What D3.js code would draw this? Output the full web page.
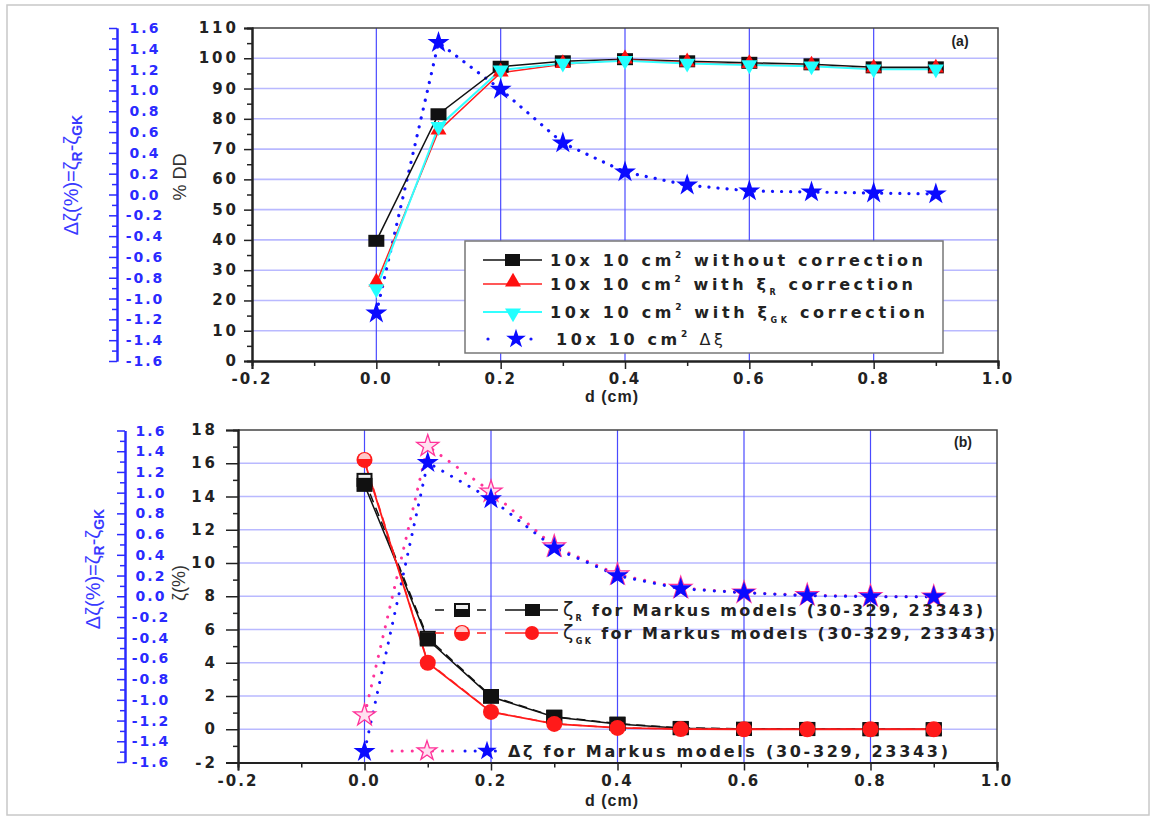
<!DOCTYPE html>
<html>
<head>
<meta charset="utf-8">
<script src="https://cdn.jsdelivr.net/npm/d3@7"></script>
<style>
  body { margin: 0; background: #fff; }
  text { font-family: Arial, "Liberation Sans", sans-serif; }
  text.wide { font-family: "DejaVu Sans", Arial, sans-serif; }
</style>
</head>
<body>
<div id="svg-container"></div>
<script>
// depth values (cm)
const depth = [0.0, 0.1, 0.2, 0.3, 0.4, 0.5, 0.6, 0.7, 0.8, 0.9];

// panel (a): % DD
const ddWithout = [39.7, 81.5, 97.2, 99.0, 99.7, 99.0, 98.5, 98.0, 97.0, 97.0];
const ddWithR   = [25.8, 76.0, 95.2, 98.0, 99.5, 98.5, 98.0, 97.5, 96.5, 96.5];
const ddWithGK  = [23.8, 77.4, 96.1, 98.3, 99.2, 98.3, 97.8, 97.4, 96.4, 96.4];
const deltaA    = [-1.14, 1.46, 1.01, 0.495, 0.216, 0.09, 0.034, 0.024, 0.014, 0.005];

// panel (b): zeta (%)
const zetaR      = [14.7, 5.4, 1.95, 0.74, 0.32, 0.06, 0.02, 0.01, 0.0, 0.0];
const zetaRDash  = [15.0, 5.5, 2.0, 0.76, 0.34, 0.08, 0.03, 0.02, 0.01, 0.0];
const zetaGK     = [16.1, 4.0, 1.04, 0.32, 0.08, 0.01, 0.0, 0.0, 0.0, 0.0];
const zetaGKDash = [16.2, 4.05, 1.06, 0.33, 0.09, 0.02, 0.0, 0.0, 0.0, 0.0];
const deltaBBlue = [-1.5, 1.29, 0.94, 0.466, 0.198, 0.072, 0.034, 0.005, -0.005, -0.005];
const deltaBPink = [-1.15, 1.45, 1.01, 0.48, 0.21, 0.08, 0.035, 0.01, 0.0, -0.005];

// tick values
const xTicks   = [-0.2, 0.0, 0.2, 0.4, 0.6, 0.8, 1.0];
const xMinor   = d3.range(-1, 10, 2).map(v => v / 10);
const ddTicks  = d3.range(0, 111, 10);
const ddMinor  = d3.range(5, 110, 10);
const zTicks   = d3.range(-2, 19, 2);
const zMinor   = d3.range(-1, 18, 2);
const dzTicks  = d3.range(-16, 17, 2).map(v => v / 10);
const dzMinor  = d3.range(-15, 16, 2).map(v => v / 10);

const width = 1155, height = 823;
const BLUE = "#2a2aff", GRID_H = "#b9b9ff", GRID_V = "#4a4aff";

const svg = d3.select("#svg-container").append("svg")
  .attr("width", width).attr("height", height);

// light frame round whole picture
svg.append("rect").attr("x", 7).attr("y", 5).attr("width", 1142).attr("height", 810)
  .attr("fill", "none").attr("stroke", "#c8c8c8").attr("stroke-width", 1.5);

const star = d3.symbol().type(d3.symbolStar).size(150);
const starSmall = d3.symbol().type(d3.symbolStar).size(120);
const triUp = d3.symbol().type(d3.symbolTriangle).size(110);

// plain hyphen for negatives, like the original
const fmt1 = v => d3.format(".1f")(v).replace("\u2212", "-");

// tick labels drawn as own text so the styling sticks
function tickLabels(g, ticks, fx, fy, fmt, o) {
  g.selectAll(null).data(ticks).enter().append("text")
    .attr("class", "wide")
    .attr("x", fx).attr("y", fy)
    .attr("text-anchor", o.anchor)
    .attr("font-size", o.size).attr("font-weight", "bold")
    .attr("letter-spacing", o.spacing)
    .attr("fill", o.color)
    .text(fmt);
}

function styleAxis(a, color) {
  a.selectAll(".domain").attr("stroke-width", 2).attr("stroke", color);
  a.selectAll(".tick line").attr("stroke-width", 1.5).attr("stroke", color);
}

// draws frame, grid, axes of a panel, returns scales
function makePanel(p) {
  const x = d3.scaleLinear().domain([-0.2, 1.0]).range([p.left, p.right]);
  const y = d3.scaleLinear().domain(p.yDomain).range([p.bottom, p.top]);
  const yb = d3.scaleLinear().domain([-1.6, 1.6]).range([p.bBottom, p.bTop]);
  const g = svg.append("g");

  // grid
  g.selectAll(".gh").data(p.yTicks.filter(v => v !== p.yDomain[0] && v !== p.yDomain[1]))
    .enter().append("line")
    .attr("x1", p.left).attr("x2", p.right)
    .attr("y1", d => y(d)).attr("y2", d => y(d))
    .attr("stroke", GRID_H).attr("stroke-width", 1.6);
  g.selectAll(".gv").data([0.0, 0.2, 0.4, 0.6, 0.8])
    .enter().append("line")
    .attr("x1", d => x(d)).attr("x2", d => x(d))
    .attr("y1", p.top).attr("y2", p.bottom)
    .attr("stroke", GRID_V).attr("stroke-width", 1.2);

  // top and right frame
  g.append("path")
    .attr("d", `M${p.left},${p.top}H${p.right}V${p.bottom}`)
    .attr("fill", "none").attr("stroke", "#444").attr("stroke-width", 1.5);

  // x axis
  g.append("g").attr("transform", `translate(0,${p.bottom})`)
    .call(d3.axisBottom(x).tickValues(xMinor).tickSize(5).tickFormat(""))
    .call(styleAxis, "#222");
  g.append("g").attr("transform", `translate(0,${p.bottom})`)
    .call(d3.axisBottom(x).tickValues(xTicks).tickSize(8).tickFormat(""))
    .call(styleAxis, "#222");
  tickLabels(g, xTicks, d => x(d), p.bottom + 23, fmt1,
    { anchor: "middle", size: 15, spacing: 2, color: "#222" });

  // left axis
  g.append("g").attr("transform", `translate(${p.left},0)`)
    .call(d3.axisLeft(y).tickValues(p.yMinor).tickSize(5).tickFormat(""))
    .call(styleAxis, "#222");
  g.append("g").attr("transform", `translate(${p.left},0)`)
    .call(d3.axisLeft(y).tickValues(p.yTicks).tickSize(p.tick).tickFormat(""))
    .call(styleAxis, "#222");
  tickLabels(g, p.yTicks, p.labelX, d => y(d) + 5, d => d,
    { anchor: "end", size: 15, spacing: 3, color: "#222" });

  // blue axis, ticks to the left, labels to the right
  g.append("g").attr("transform", `translate(${p.bx},0)`)
    .call(d3.axisRight(yb).tickValues(dzMinor).tickSizeInner(-5).tickSizeOuter(0).tickFormat(""))
    .call(styleAxis, BLUE);
  g.append("g").attr("transform", `translate(${p.bx},0)`)
    .call(d3.axisRight(yb).tickValues(dzTicks).tickSizeInner(-8).tickSizeOuter(0).tickFormat(""))
    .call(styleAxis, BLUE);
  tickLabels(g, dzTicks, p.bLabelX, d => yb(d) + 5, fmt1,
    { anchor: "middle", size: 14, spacing: 2, color: BLUE });

  return { x, y, yb, g };
}

function seriesLine(g, x, y, vals, color, opts) {
  const line = d3.line().x((d, i) => x(depth[i])).y(d => y(d));
  g.append("path").datum(vals).attr("d", line)
    .attr("fill", "none").attr("stroke", color)
    .attr("stroke-width", opts.width || 1.5)
    .attr("stroke-dasharray", opts.dash || null)
    .attr("stroke-linecap", opts.cap || "butt");
}

function bigText(x, y, str, size, color, rotate) {
  const t = svg.append("text").attr("x", x).attr("y", y)
    .attr("font-size", size).attr("font-weight", "bold").attr("fill", color)
    .attr("text-anchor", "middle");
  if (rotate) t.attr("transform", `rotate(-90,${x},${y})`);
  t.text(str);
  return t;
}

// ================= panel (a) =================
const A = makePanel({
  left: 252, right: 998, top: 28, bottom: 361,
  yDomain: [0, 110], yTicks: ddTicks, yMinor: ddMinor, tick: 8, labelX: 239,
  bx: 117, bTop: 28, bBottom: 361, bLabelX: 145
});

seriesLine(A.g, A.x, A.yb, deltaA, "#1515ff", { dash: "0.1,9", width: 3.2, cap: "round" });
seriesLine(A.g, A.x, A.y, ddWithout, "#111", {});
seriesLine(A.g, A.x, A.y, ddWithR, "#ff2020", {});
seriesLine(A.g, A.x, A.y, ddWithGK, "#33ffff", { width: 2 });

A.g.selectAll(".sq").data(ddWithout).enter().append("rect")
  .attr("x", (d, i) => A.x(depth[i]) - 8).attr("y", d => A.y(d) - 6)
  .attr("width", 16).attr("height", 12).attr("fill", "#111");
A.g.selectAll(".tu").data(ddWithR).enter().append("path")
  .attr("d", triUp)
  .attr("transform", (d, i) => `translate(${A.x(depth[i])},${A.y(d) - 1})`)
  .attr("fill", "#ff1010");
A.g.selectAll(".td").data(ddWithGK).enter().append("path")
  .attr("d", triUp)
  .attr("transform", (d, i) => `translate(${A.x(depth[i])},${A.y(d)}) rotate(180)`)
  .attr("fill", "#22ffff");
A.g.selectAll(".st").data(deltaA).enter().append("path")
  .attr("d", star)
  .attr("transform", (d, i) => `translate(${A.x(depth[i])},${A.yb(d)})`)
  .attr("fill", "#0a0aff");

// legend (a)
const legA = svg.append("g");
legA.append("rect").attr("x", 465).attr("y", 241).attr("width", 478).attr("height", 112)
  .attr("fill", "#fff").attr("stroke", "#777").attr("stroke-width", 1.5);
const rowsA = [
  { y: 260, color: "#111", sub: null, pre: "10x 10 cm", post: " without  correction", w: 373 },
  { y: 284, color: "#ff2020", sub: "R", pre: "10x 10 cm", post: " correction", w: 363 },
  { y: 312, color: "#33ffff", sub: "GK", pre: "10x 10 cm", post: " correction", w: 375 },
  { y: 339, color: "#1515ff", sub: "star", pre: "10x 10 cm", post: "", w: 167 }
];
rowsA.forEach((r, k) => {
  if (k < 3) {
    legA.append("line").attr("x1", 483).attr("x2", 542).attr("y1", r.y).attr("y2", r.y)
      .attr("stroke", r.color).attr("stroke-width", k === 2 ? 2 : 1.5);
  }
  if (k === 0) legA.append("rect").attr("x", 505).attr("y", r.y - 6).attr("width", 15).attr("height", 12).attr("fill", "#111");
  if (k === 1) legA.append("path").attr("d", triUp).attr("transform", `translate(513,${r.y - 2})`).attr("fill", "#ff1010");
  if (k === 2) legA.append("path").attr("d", triUp).attr("transform", `translate(513,${r.y + 1}) rotate(180)`).attr("fill", "#22ffff");
  if (k === 3) {
    legA.append("circle").attr("cx", 488).attr("cy", r.y).attr("r", 1.6).attr("fill", "#1515ff");
    legA.append("circle").attr("cx", 531).attr("cy", r.y).attr("r", 1.6).attr("fill", "#1515ff");
    legA.append("path").attr("d", starSmall).attr("transform", `translate(516,${r.y})`).attr("fill", "#0a0aff");
  }
  const t = legA.append("text").attr("class", "wide").attr("x", k === 3 ? 556 : 550).attr("y", r.y + 6)
    .attr("font-size", 16).attr("font-weight", "bold").attr("fill", "#222")
    .attr("textLength", r.w).attr("lengthAdjust", "spacing");
  t.append("tspan").text(r.pre);
  t.append("tspan").attr("dy", -8).attr("font-size", 9).text("2");
  if (k === 0) t.append("tspan").attr("dy", 8).text(r.post);
  if (k === 1 || k === 2) {
    t.append("tspan").attr("dy", 8).text("  with ξ");
    t.append("tspan").attr("dy", 5).attr("font-size", 8).text(r.sub);
    t.append("tspan").attr("dy", -5).text(r.post);
  }
  if (k === 3) t.append("tspan").attr("dy", 8).attr("font-weight", "normal").text(" Δξ");
});

bigText(960, 46, "(a)", 14, "#222");
bigText(612, 402, "d (cm)", 16, "#222").attr("letter-spacing", 1);
bigText(186, 177, "% DD", 18, "#333", true).attr("font-weight", "normal");

// blue axis title with subscripts
function blueTitle(x, y) {
  const t = svg.append("text").attr("x", x).attr("y", y)
    .attr("transform", `rotate(-90,${x},${y})`).attr("text-anchor", "middle")
    .attr("font-size", 20).attr("fill", "#3a3aff");
  t.append("tspan").text("Δζ(%)=ζ");
  t.append("tspan").attr("dy", 4).attr("font-size", 14).attr("font-weight", "bold").text("R");
  t.append("tspan").attr("dy", -4).text("-ζ");
  t.append("tspan").attr("dy", 4).attr("font-size", 14).attr("font-weight", "bold").text("GK");
}
blueTitle(78, 175);

// ================= panel (b) =================
const B = makePanel({
  left: 238, right: 997, top: 430, bottom: 762.5,
  yDomain: [-2, 18], yTicks: zTicks, yMinor: zMinor, tick: 12, labelX: 218,
  bx: 125, bTop: 430.5, bBottom: 762, bLabelX: 151
});

seriesLine(B.g, B.x, B.yb, deltaBPink, "#ff3399", { dash: "0.1,10", width: 3, cap: "round" });
seriesLine(B.g, B.x, B.yb, deltaBBlue, "#1515ff", { dash: "0.1,10", width: 3, cap: "round" });
seriesLine(B.g, B.x, B.y, zetaRDash, "#111", { dash: "9,6" });
seriesLine(B.g, B.x, B.y, zetaR, "#111", {});
seriesLine(B.g, B.x, B.y, zetaGKDash, "#ff3030", { dash: "9,6" });
seriesLine(B.g, B.x, B.y, zetaGK, "#ff1a1a", { width: 1.8 });

function halfSquare(g, cx, cy) {
  g.append("rect").attr("x", cx - 8).attr("y", cy - 7).attr("width", 16).attr("height", 14).attr("fill", "#111");
  g.append("rect").attr("x", cx - 6).attr("y", cy - 5).attr("width", 12).attr("height", 4).attr("fill", "#eee");
}
function halfCircle(g, cx, cy) {
  g.append("circle").attr("cx", cx).attr("cy", cy).attr("r", 8).attr("fill", "#ff1a1a");
  g.append("path").attr("d", "M-6,-1A6,6 0 0 1 6,-1Z").attr("transform", `translate(${cx},${cy})`).attr("fill", "#ffc8c8");
}

zetaRDash.forEach((d, i) => halfSquare(B.g, B.x(depth[i]), B.y(d)));
B.g.selectAll(".sqb").data(zetaR).enter().append("rect")
  .attr("x", (d, i) => B.x(depth[i]) - 8).attr("y", d => B.y(d) - 7)
  .attr("width", 16).attr("height", 14).attr("fill", "#111");
zetaGKDash.forEach((d, i) => { if (i === 0) halfCircle(B.g, B.x(depth[i]), B.y(d)); });
B.g.selectAll(".cb").data(zetaGK.slice(1)).enter().append("circle")
  .attr("cx", (d, i) => B.x(depth[i + 1])).attr("cy", d => B.y(d)).attr("r", 8)
  .attr("fill", "#ff1a1a");
B.g.selectAll(".stp").data(deltaBPink).enter().append("path")
  .attr("d", star)
  .attr("transform", (d, i) => `translate(${B.x(depth[i])},${B.yb(d)})`)
  .attr("fill", "#ffe0f0").attr("stroke", "#ff3399").attr("stroke-width", 1.3);
B.g.selectAll(".stb").data(deltaBBlue).enter().append("path")
  .attr("d", star)
  .attr("transform", (d, i) => `translate(${B.x(depth[i])},${B.yb(d)})`)
  .attr("fill", "#0a0aff");

// legend (b), no box
const legB = svg.append("g");
[{ y: 610, c: "#111", sub: "R", w: 420 }, { y: 633, c: "#ff2020", sub: "GK", w: 432 }].forEach((r, k) => {
  legB.append("line").attr("x1", 435).attr("x2", 495).attr("y1", r.y).attr("y2", r.y)
    .attr("stroke", r.c).attr("stroke-width", 1.5).attr("stroke-dasharray", "9,12");
  legB.append("line").attr("x1", 505).attr("x2", 558).attr("y1", r.y).attr("y2", r.y)
    .attr("stroke", r.c).attr("stroke-width", 1.5);
  if (k === 0) {
    halfSquare(legB, 462, r.y);
    legB.append("rect").attr("x", 525).attr("y", r.y - 6).attr("width", 15).attr("height", 12).attr("fill", "#111");
  } else {
    halfCircle(legB, 462, r.y);
    legB.append("circle").attr("cx", 532).attr("cy", r.y).attr("r", 7).attr("fill", "#ff1a1a");
  }
  const t = legB.append("text").attr("class", "wide").attr("x", 563).attr("y", r.y + 6)
    .attr("font-size", 16).attr("font-weight", "bold").attr("fill", "#222")
    .attr("textLength", r.w).attr("lengthAdjust", "spacing");
  t.append("tspan").attr("font-weight", "normal").attr("font-size", 19).text("ζ");
  t.append("tspan").attr("dy", 5).attr("font-size", 8).text(r.sub);
  t.append("tspan").attr("dy", -5).text(" for Markus models (30-329, 23343)");
});
// delta row
legB.append("line").attr("x1", 392).attr("x2", 460).attr("y1", 751).attr("y2", 751)
  .attr("stroke", "#ff3399").attr("stroke-width", 3).attr("stroke-dasharray", "0.1,10").attr("stroke-linecap", "round");
legB.append("line").attr("x1", 465).attr("x2", 505).attr("y1", 751).attr("y2", 751)
  .attr("stroke", "#1515ff").attr("stroke-width", 3).attr("stroke-dasharray", "0.1,10").attr("stroke-linecap", "round");
legB.append("path").attr("d", starSmall).attr("transform", "translate(427,751)")
  .attr("fill", "#ffe0f0").attr("stroke", "#ff3399").attr("stroke-width", 1.3);
legB.append("path").attr("d", starSmall).attr("transform", "translate(487,751)").attr("fill", "#0a0aff");
legB.append("text").attr("class", "wide").attr("x", 508).attr("y", 757)
  .attr("font-size", 16).attr("font-weight", "bold").attr("fill", "#222")
  .attr("textLength", 440).attr("lengthAdjust", "spacing")
  .text("Δζ for Markus models (30-329, 23343)");

bigText(963, 447, "(b)", 14, "#222");
bigText(612, 806, "d (cm)", 16, "#222").attr("letter-spacing", 1);
const zl = svg.append("text").attr("x", 185).attr("y", 583)
  .attr("transform", "rotate(-90,185,583)").attr("text-anchor", "middle")
  .attr("font-size", 18).attr("fill", "#333");
zl.text("ζ(%)");
blueTitle(100, 569);
</script>
</body>
</html>
